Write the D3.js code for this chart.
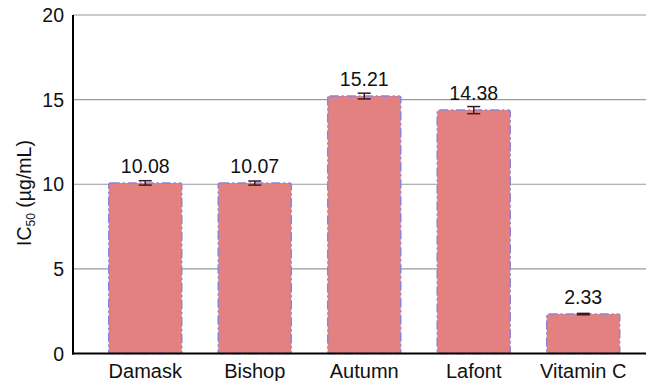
<!DOCTYPE html>
<html><head><meta charset="utf-8">
<script src="https://cdn.jsdelivr.net/npm/d3@7"></script>
<style>body{margin:0;background:#fff}svg{display:block}text{font-family:"Liberation Sans",Arial,sans-serif}</style>
</head><body><svg id="c" width="646" height="381"></svg>
<script>
const categories = ["Damask", "Bishop", "Autumn", "Lafont", "Vitamin C"];
const values = [10.08, 10.07, 15.21, 14.38, 2.33];
const errors = [0.13, 0.12, 0.17, 0.21, 0.04];
const labels = ["10.08", "10.07", "15.21", "14.38", "2.33"];
const yTicks = [0, 5, 10, 15, 20];

const svg = d3.select("#c");
const y = d3.scaleLinear().domain([0, 20]).range([353.5, 15]);
const x = d3.scaleBand().domain(categories).range([90.5, 638]).paddingInner(0.333).paddingOuter(0.1667);
const left = 73, right = 646;

// gridlines
svg.append("g").selectAll("line").data(yTicks.filter(d => d > 0)).join("line")
  .attr("x1", left).attr("x2", right).attr("y1", d => y(d)).attr("y2", d => y(d))
  .attr("stroke", "#9a9a9a").attr("stroke-width", 1.2);

// y tick labels
svg.append("g").selectAll("text").data(yTicks).join("text")
  .attr("x", 64).attr("y", d => y(d)).attr("dy", "0.36em")
  .attr("text-anchor", "end").attr("font-size", 19.5).attr("fill", "#111").text(d => d);

// bars
svg.append("g").selectAll("rect").data(values).join("rect")
  .attr("x", (d, i) => x(categories[i])).attr("width", x.bandwidth())
  .attr("y", d => y(d)).attr("height", d => y(0) - y(d))
  .attr("rx", 2)
  .attr("fill", "#e38080").attr("stroke", "#8c84d8").attr("stroke-width", 1.5)
  .attr("stroke-dasharray", "9,3,2,3");

// error bars
const eg = svg.append("g").attr("stroke", "#3a1a1a").attr("stroke-width", 1.5);
values.forEach((v, i) => {
  const cx = x(categories[i]) + x.bandwidth() / 2;
  const e = errors[i];
  eg.append("line").attr("x1", cx).attr("x2", cx).attr("y1", y(v + e)).attr("y2", y(v - e));
  eg.append("line").attr("x1", cx - 6.5).attr("x2", cx + 6.5).attr("y1", y(v + e)).attr("y2", y(v + e));
  eg.append("line").attr("x1", cx - 6.5).attr("x2", cx + 6.5).attr("y1", y(v - e)).attr("y2", y(v - e));
});

// value labels
svg.append("g").selectAll("text").data(values).join("text")
  .attr("x", (d, i) => x(categories[i]) + x.bandwidth() / 2)
  .attr("y", d => y(d) - 10)
  .attr("text-anchor", "middle").attr("font-size", 19.5).attr("fill", "#111")
  .text((d, i) => labels[i]);

// axes lines
svg.append("line").attr("x1", left).attr("x2", left).attr("y1", y(20)).attr("y2", y(0) + 1)
  .attr("stroke", "#000").attr("stroke-width", 2);
svg.append("line").attr("x1", left - 1).attr("x2", right).attr("y1", y(0)).attr("y2", y(0))
  .attr("stroke", "#000").attr("stroke-width", 2);

// category labels
svg.append("g").selectAll("text").data(categories).join("text")
  .attr("x", d => x(d) + x.bandwidth() / 2).attr("y", 378)
  .attr("text-anchor", "middle").attr("font-size", 20).attr("fill", "#111").text(d => d);

// y title
const t = svg.append("text").attr("transform", "translate(31,193) rotate(-90)")
  .attr("text-anchor", "middle").attr("font-size", 19.5).attr("fill", "#111");
t.append("tspan").text("IC");
t.append("tspan").attr("font-size", 12).attr("dy", 4).text("50");
t.append("tspan").attr("dy", -4).text(" (µg/mL)");
</script></body></html>
